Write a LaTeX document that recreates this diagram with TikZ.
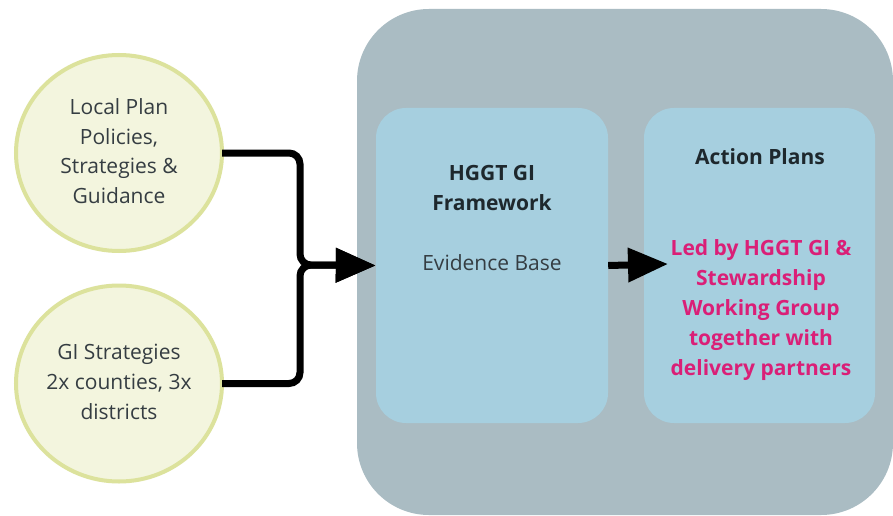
\documentclass[tikz,border=0pt]{standalone}
\usepackage{fontspec}
\setmainfont{Open Sans}
\usetikzlibrary{arrows.meta,shapes.geometric}
\definecolor{outerbox}{HTML}{AABCC3}
\definecolor{innerbox}{HTML}{A6CFDF}
\definecolor{circfill}{HTML}{F3F5DE}
\definecolor{circline}{HTML}{DCE29C}
\definecolor{txtgrey}{HTML}{353D42}
\definecolor{txtdark}{HTML}{1E282D}
\definecolor{pinktxt}{HTML}{DA1F77}
\tikzset{
  srccirc/.style={ellipse, draw=circline, line width=4pt, fill=circfill,
    minimum width=206pt, minimum height=196pt, inner sep=0pt},
  innerpanel/.style={rectangle, rounded corners=30pt, fill=innerbox,
    minimum width=232pt, minimum height=315pt, inner sep=0pt},
  bodytxt/.style={align=center, text=txtgrey, font=\fontsize{21}{29.5}\selectfont},
  headtxt/.style={align=center, text=txtdark, font=\fontsize{21}{30}\selectfont\bfseries},
  pinklines/.style={align=center, text=pinktxt, font=\fontsize{21}{30}\selectfont\bfseries},
  conn/.style={line width=7pt, black, rounded corners=11pt,
    -{Triangle[length=40pt,width=33pt]}},
}
\begin{document}
\begin{tikzpicture}[x=1pt,y=-1pt]
\useasboundingbox (0,0) rectangle (893,516);
\fill[white] (0,0) rectangle (893,516);
% outer panel
\node[rectangle, rounded corners=72pt, fill=outerbox, minimum width=536pt,
  minimum height=506pt, inner sep=0pt] (outer) at (625,262) {};
% inner panels
\node[innerpanel] (fw) at (492,265.5) {};
\node[innerpanel, minimum width=231pt] (ap) at (759.5,265.5) {};
% circles
\node[srccirc] (c1) at (119,153) {};
\node[srccirc] (c2) at (119,383.5) {};
\node[bodytxt] (t1) at (119,151) {Local Plan\\Policies,\\Strategies \&\\Guidance};
\node[bodytxt, font=\fontsize{21}{30}\selectfont] (t2) at (119,382) {GI Strategies\\2x counties, 3x\\districts};
% framework texts
\node[headtxt] (fwh) at (492,188) {HGGT GI\\Framework};
\node[bodytxt] (fwe) at (492,263) {Evidence Base};
% action plans texts
\node[headtxt] (aph) at (760,157) {Action Plans};
\node[pinklines] (apl) at (761,310) {Led by HGGT GI \&\\Stewardship\\Working Group\\together with\\delivery partners};
% connectors
\coordinate (j) at (300,265);
\coordinate (tip2) at (668,264);
\draw[conn, shorten <=-2pt] (c1.east) -| (j) -- (fw.west);
\draw[conn, shorten <=-2pt] (c2.east) -| (j) -- (fw.west);
\draw[line width=7pt, -{Triangle[length=40pt,width=33pt]}] (fw.east) -- (tip2);
\end{tikzpicture}
\end{document}
